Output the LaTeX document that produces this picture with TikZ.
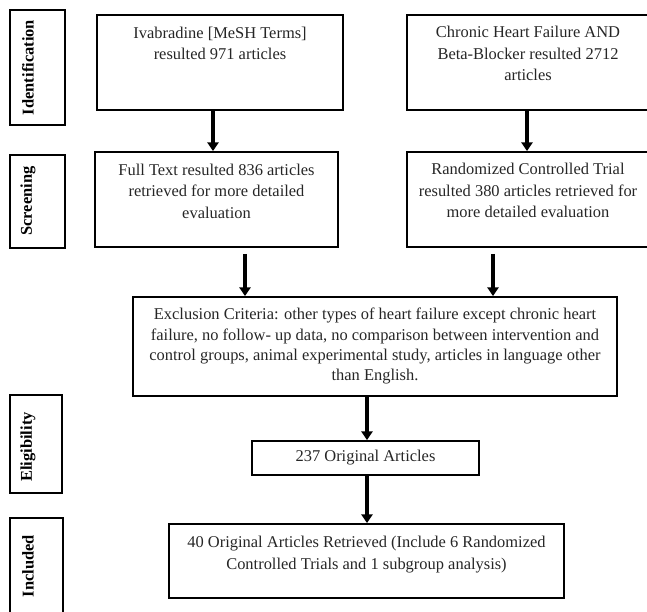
\documentclass[tikz,border=0pt]{standalone}
\usepackage{fontspec}
\setmainfont{Liberation Serif}
\usetikzlibrary{arrows.meta}

\tikzset{
  box/.style={draw, line width=1.3pt, inner sep=0pt},
  stagebox/.style={draw, line width=1.6pt, inner sep=0pt},
  boxtxt/.style={anchor=north, align=center, inner sep=0pt, text=black!85, font=\fontsize{11.7}{15.2}\selectfont},
  stagetxt/.style={rotate=90, inner sep=0pt, font=\fontsize{11.7}{14}\selectfont\bfseries},
  arr/.style={line width=2.8pt, -{Triangle[length=0.22cm,width=0.28cm]}}
}

\begin{document}
\begin{tikzpicture}[x=0.025cm,y=-0.025cm]
    \useasboundingbox (0,0) rectangle (647,612);
    % stages
    \node[stagebox, minimum width=1.375cm, minimum height=2.875cm] (ident) at (37.5,67.5) {};
    \node[stagetxt] (identtxt) at (28,67.5) {Identification};
    \node[stagebox, minimum width=1.375cm, minimum height=2.325cm] (screen) at (37.5,201.5) {};
    \node[stagetxt] (screentxt) at (28,201) {Screening};
    \node[stagebox, minimum width=1.3cm, minimum height=2.45cm] (elig) at (36,444) {};
    \node[stagetxt] (eligtxt) at (28,447) {Eligibility};
    \node[stagebox, minimum width=1.325cm, minimum height=2.675cm] (incl) at (36.5,571.5) {};
    \node[stagetxt] (incltxt) at (28,566) {Included};
    % boxes
    \node[box, minimum width=6.15cm, minimum height=2.375cm] (ivab) at (220,62.5) {};
    \node[boxtxt] (ivabtxt) at ([yshift=-0.32cm]ivab.north) {Ivabradine [MeSH Terms]\\resulted 971 articles};
    \node[box, minimum width=6.05cm, minimum height=2.375cm] (chf) at (528,62.5) {};
    \node[boxtxt] (chftxt) at ([yshift=-0.3cm]chf.north) {Chronic Heart Failure AND\\Beta-Blocker resulted 2712\\articles};
    \node[box, minimum width=6.075cm, minimum height=2.375cm] (full) at (216.5,199.5) {};
    \node[boxtxt] (fulltxt) at ([yshift=-0.32cm]full.north) {Full Text resulted 836 articles\\retrieved for more detailed\\evaluation};
    \node[box, minimum width=6.05cm, minimum height=2.375cm] (rct) at (528,199.5) {};
    \node[boxtxt] (rcttxt) at ([yshift=-0.3cm]rct.north) {Randomized Controlled Trial\\resulted 380 articles retrieved for\\more detailed evaluation};
    \node[box, minimum width=12.1cm, minimum height=2.475cm] (excl) at (375,346.5) {};
    \node[boxtxt, font=\fontsize{11.7}{14.4}\selectfont] (excltxt) at ([yshift=-0.3cm]excl.north) {Exclusion Criteria: other types of heart failure except chronic heart\\failure, no follow- up data, no comparison between intervention and\\control groups, animal experimental study, articles in language other\\than English.};
    \node[box, minimum width=5.675cm, minimum height=0.85cm] (orig) at (365.5,458) {};
    \node[boxtxt, anchor=center] (origtxt) at (orig.center) {237 Original Articles};
    \node[box, minimum width=9.875cm, minimum height=1.85cm] (final) at (366.5,561) {};
    \node[boxtxt] (finaltxt) at ([yshift=-0.33cm]final.north) {40 Original Articles Retrieved (Include 6 Randomized\\Controlled Trials and 1 subgroup analysis)};
    % arrows
    \draw[arr] (ivab.south -| 213,0) -- (full.north -| 213,0);
    \draw[arr] (chf.south -| 527,0) -- (rct.north -| 527,0);
    \draw[arr] ([yshift=-0.15cm]full.south -| 245,0) -- (excl.north -| 245,0);
    \draw[arr] ([yshift=-0.15cm]rct.south -| 493,0) -- (excl.north -| 493,0);
    \draw[arr] (excl.south -| 367,0) -- (orig.north -| 367,0);
    \draw[arr] (orig.south -| 367,0) -- (final.north -| 367,0);
\end{tikzpicture}
\end{document}
